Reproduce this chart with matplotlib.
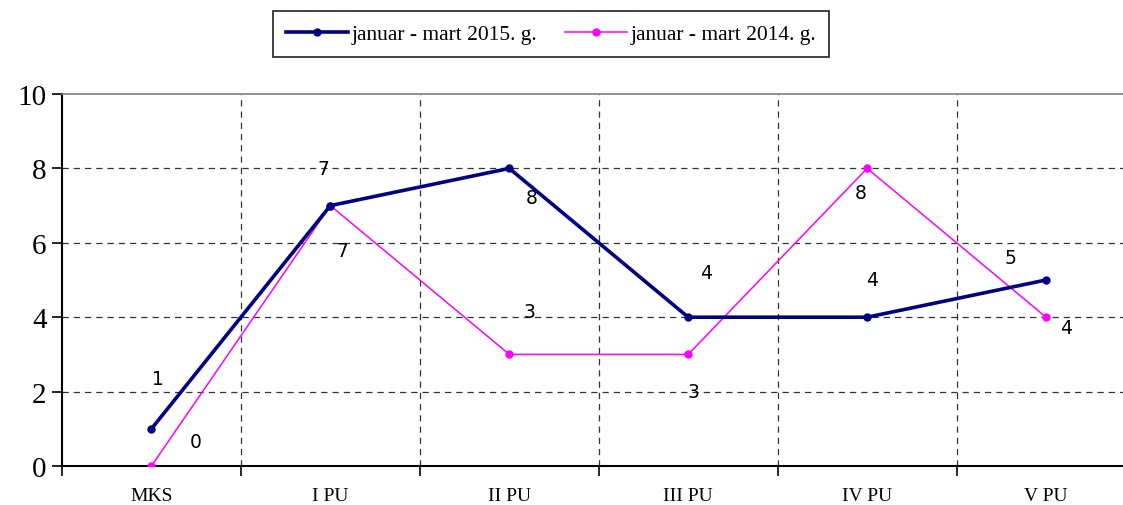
import matplotlib.pyplot as plt
import numpy as np

# Podaci
kategorije = ['MKS', 'I PU', 'II PU', 'III PU', 'IV PU', 'V PU']
vr_2015 = [1, 7, 8, 4, 4, 5]
vr_2014 = [0, 7, 3, 3, 8, 4]
naziv_2015 = 'januar - mart 2015. g.'
naziv_2014 = 'januar - mart 2014. g.'

# pomaci oznaka (u pikselima)
pom_2015 = [(6, 50), (-7, 37), (22, -29), (18, 45), (5, 38), (-36, 23)]
pom_2014 = [(44, 24), (12, -45), (20, 43), (5, -37), (-6, -24), (20, -10)]

W, H = 1123, 506
fig = plt.figure(figsize=(W / 100, H / 100), dpi=100)
x0, x1 = 62, 1135.5
y0, y1 = 467, 95
ax = fig.add_axes([x0 / W, (H - y0) / H, (x1 - x0) / W, (y0 - y1) / H])

x = np.arange(len(kategorije))
l1, = ax.plot(x, vr_2015, color='#000080', lw=2.6, marker='o', ms=5, zorder=4)
l2, = ax.plot(x, vr_2014, color='#ff00ff', lw=1.1, marker='o', ms=5, zorder=3)

for xi, v, p in zip(x, vr_2015, pom_2015):
    ax.annotate(str(v), (xi, v), xytext=p, textcoords='offset pixels',
                ha='center', va='center', fontsize=13.5, family='DejaVu Sans')
for xi, v, p in zip(x, vr_2014, pom_2014):
    ax.annotate(str(v), (xi, v), xytext=p, textcoords='offset pixels',
                ha='center', va='center', fontsize=13.5, family='DejaVu Sans')

ax.set_xlim(-0.5, len(kategorije) - 0.5)
ax.set_ylim(0, 10)
ax.set_yticks(range(0, 11, 2))
ax.set_xticks(x)
ax.set_xticklabels(kategorije, family='Liberation Serif', fontsize=14)
ax.set_xticks(np.arange(-0.5, len(kategorije)), minor=True)
ax.tick_params(axis='x', which='major', length=0, pad=15)
ax.tick_params(axis='x', which='minor', length=7, width=1.2, direction='out')
ax.tick_params(axis='y', length=7, width=1.2, direction='out', labelsize=21, pad=4)
for t in ax.get_yticklabels():
    t.set_family('Liberation Serif')

# mreza
for yv in range(2, 10, 2):
    ax.axhline(yv, color='#333333', lw=0.9, ls=(0, (5, 4)), zorder=1)
for xv in np.arange(0.5, len(kategorije) - 0.5):
    ax.axvline(xv, color='#333333', lw=0.9, ls=(0, (5, 4)), zorder=1)

ax.spines['right'].set_visible(False)
ax.spines['top'].set_color('#808080')
ax.spines['top'].set_linewidth(1.2)
ax.spines['left'].set_linewidth(1.5)
ax.spines['bottom'].set_linewidth(1.5)

leg = fig.legend([l1, l2], [naziv_2015, naziv_2014], loc='center',
                 bbox_to_anchor=(551 / W, (H - 35) / H), ncol=2,
                 prop={'family': 'Liberation Serif', 'size': 15.5},
                 frameon=True, fancybox=False, edgecolor='black',
                 handlelength=2.9, handletextpad=0.15, columnspacing=1.3,
                 borderpad=0.6, markerscale=1.0)
leg.get_frame().set_linewidth(1.3)

fig.savefig('out.png', dpi=100)
